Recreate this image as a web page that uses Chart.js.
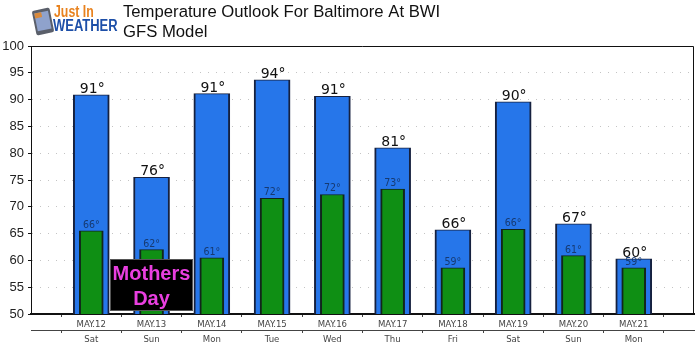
<!DOCTYPE html>
<html><head><meta charset="utf-8">
<style>html,body{margin:0;padding:0;background:#fff}#w{position:absolute;left:0;top:0;width:700px;height:352px}</style>
<script src="https://cdn.jsdelivr.net/npm/chart.js@4/dist/chart.umd.min.js"></script>
</head><body><div id="w"><canvas id="c" width="700" height="352"></canvas></div>
<script>
const dates = ['', 'MAY.12','MAY.13','MAY.14','MAY.15','MAY.16','MAY.17','MAY.18','MAY.19','MAY.20','MAY.21',''];
const days = ['', 'Sat','Sun','Mon','Tue','Wed','Thu','Fri','Sat','Sun','Mon',''];
const highs = [null,90.9,75.5,91.1,93.7,90.6,81,65.7,89.6,66.8,60.3,null];
const lows = [null,65.5,62,60.5,71.6,72.3,73.3,58.6,65.8,60.9,58.6,null];
const highLabels = ['', '91','76','91','94','91','81','66','90','67','60',''];
const lowLabels = ['', '66','62','61','72','72','73','59','66','61','59',''];
const titleLines = ['Temperature Outlook For Baltimore At BWI','GFS Model'];
const yTicks = [50,55,60,65,70,75,80,85,90,95,100];

const overlay = {
  id:'overlay',
  afterDatasetsDraw(chart){
    const c=chart.ctx, x=chart.scales.x, y=chart.scales.y;
    c.save();
    c.textAlign='center'; c.textBaseline='alphabetic';
    highs.forEach((v,i)=>{ if(v==null) return;
      c.font='14px "DejaVu Sans"'; c.fillStyle='#111';
      c.fillText(highLabels[i]+'°',x.getPixelForValue(i)+1,y.getPixelForValue(v)-2);
    });
    lows.forEach((v,i)=>{ if(v==null) return;
      c.font='10.5px "DejaVu Sans Condensed","DejaVu Sans"'; c.fillStyle='#163a72';
      c.fillText(lowLabels[i]+'°',x.getPixelForValue(i),y.getPixelForValue(v)-3);
    });
    c.strokeStyle='#111'; c.lineWidth=1;
    c.beginPath(); c.moveTo(31,46.5); c.lineTo(693.5,46.5); c.lineTo(693.5,314); c.stroke();
    c.fillStyle='#000'; c.fillRect(110,259,83,52);
    c.strokeStyle='#555'; c.strokeRect(110.5,259.5,82,51);
    c.fillStyle='#e93fe0'; c.font='bold 20px "Liberation Sans"';
    c.fillText('Mothers',151.5,280); c.fillText('Day',151.5,305);
    c.textAlign='left'; c.fillStyle='#111'; c.font='16.7px "Liberation Sans"';
    c.fillText(titleLines[0],123,17); c.fillText(titleLines[1],123,37);
    c.save(); c.translate(43,21.5); c.rotate(-0.2);
    c.fillStyle='#5a5f6a'; c.beginPath(); c.roundRect(-9,-12.5,18,25,2); c.fill();
    c.fillStyle='#8fa2cc'; c.fillRect(-7,-9.5,14,18);
    c.fillStyle='#d98a3c'; c.fillRect(-7,-9.5,7,5);
    c.restore();
    c.font='bold 16px "Liberation Sans"';
    c.save(); c.translate(54,17); c.scale(0.77,1); c.fillStyle='#e8821e'; c.fillText('Just In',0,0); c.restore();
    c.save(); c.translate(53,30.5); c.scale(0.81,1); c.fillStyle='#1d4fa8'; c.fillText('WEATHER',0,0); c.restore();
    c.restore();
  }
};

const axisFont = {family:'"DejaVu Sans Condensed","DejaVu Sans"',size:9.5};
new Chart(document.getElementById('c'),{
  type:'bar',
  plugins:[overlay],
  data:{labels:dates,datasets:[
    {label:'High',data:highs,backgroundColor:'#2676ea',borderColor:'#16213f',borderWidth:{left:2,right:2,top:1,bottom:0},borderSkipped:false,barThickness:36,grouped:false,order:2},
    {label:'Low',data:lows,backgroundColor:'#0f8f14',borderColor:'#12261a',borderWidth:{left:2,right:2,top:1,bottom:0},borderSkipped:false,barThickness:24,grouped:false,order:1}
  ]},
  options:{
    responsive:false,animation:false,
    layout:{padding:{left:0,right:6,top:46,bottom:0}},
    plugins:{legend:{display:false},title:{display:false},tooltip:{enabled:false}},
    scales:{
      x:{type:'category',offset:false,position:'bottom',
        afterFit(s){s.height=16;},
        grid:{display:true,drawOnChartArea:false,drawTicks:true,tickLength:3,color:'#444'},
        border:{color:'#111',width:2},
        ticks:{autoSkip:false,maxRotation:0,minRotation:0,padding:2,color:'#444',font:axisFont}},
      x2:{type:'category',offset:false,position:'bottom',labels:days,
        afterFit(s){s.height=22;},
        grid:{display:true,drawOnChartArea:false,drawTicks:true,tickLength:3,color:'#444'},
        border:{color:'#444',width:1},
        ticks:{autoSkip:false,maxRotation:0,minRotation:0,padding:1,color:'#444',font:axisFont}},
      y:{min:50,max:100,
        afterFit(s){s.width=31;},
        afterBuildTicks(s){s.ticks=yTicks.map(v=>({value:v}));},
        grid:{color:'#c4c4c4',lineWidth:1,drawTicks:true,tickLength:3,tickColor:'#111'},
        border:{color:'#111',width:1,dash:[1,7]},
        ticks:{padding:4,color:'#222',font:{family:'"Liberation Sans"',size:13}}}
    }
  }
});
</script></body></html>
